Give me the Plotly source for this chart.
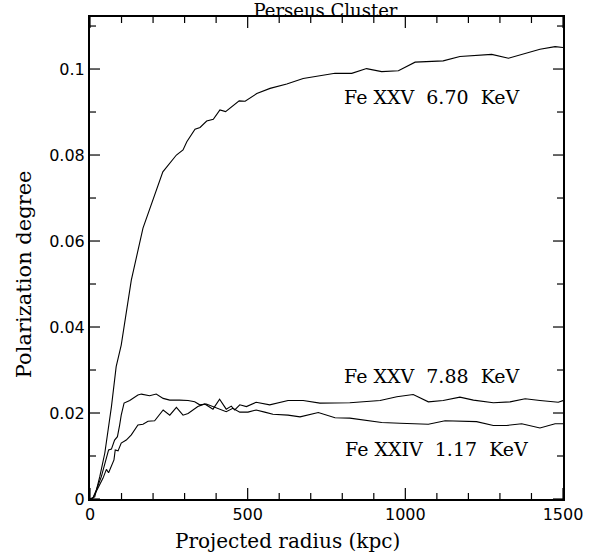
import plotly.graph_objects as go

# Fe XXV 6.70 KeV
r_670 = [0, 15, 31, 47, 68, 83, 99, 131, 168, 200, 231, 274, 295, 307, 333, 349, 370, 391, 412, 430,
         454, 473, 492, 529, 571, 624, 676, 729, 777, 830, 877, 925, 978, 1031, 1120, 1173, 1274,
         1327, 1427, 1475, 1500]
p_670 = [0, 0.0005, 0.0052, 0.0107, 0.0215, 0.0308, 0.0358, 0.0509, 0.0630, 0.0695, 0.0761, 0.0800,
         0.0812, 0.0831, 0.0860, 0.0864, 0.0879, 0.0883, 0.0905, 0.0901, 0.0916, 0.0926, 0.0925,
         0.0943, 0.0955, 0.0965, 0.0978, 0.0985, 0.0990, 0.0990, 0.1001, 0.0994, 0.0996, 0.1016,
         0.1019, 0.1029, 0.1034, 0.1025, 0.1046, 0.1052, 0.1050]

# Fe XXV 7.88 KeV
r_788 = [0, 9, 25, 41, 52, 59, 76, 80, 89, 99, 115, 131, 152, 168, 184, 205, 232, 253, 274, 295, 311,
         342, 364, 390, 411, 432, 448, 459, 475, 496, 527, 570, 628, 676, 729, 824, 920, 973, 1025,
         1073, 1120, 1173, 1216, 1279, 1332, 1380, 1427, 1485, 1500]
p_788 = [0, 0.0002, 0.0025, 0.0048, 0.0069, 0.0061, 0.0091, 0.0114, 0.0112, 0.0130, 0.0137, 0.0149,
         0.0172, 0.0174, 0.0181, 0.0182, 0.0207, 0.0195, 0.0213, 0.0195, 0.0199, 0.0215, 0.0221,
         0.0209, 0.0232, 0.0209, 0.0216, 0.0207, 0.0219, 0.0215, 0.0225, 0.0219, 0.0229, 0.0229,
         0.0223, 0.0224, 0.0229, 0.0238, 0.0243, 0.0226, 0.0229, 0.0237, 0.0230, 0.0224, 0.0226,
         0.0233, 0.0229, 0.0225, 0.0229]

# Fe XXIV 1.17 KeV
r_117 = [0, 9, 20, 36, 59, 68, 78, 87, 94, 99, 108, 126, 152, 163, 189, 210, 232, 253, 284, 311, 332,
         348, 369, 390, 411, 432, 453, 475, 501, 527, 554, 580, 628, 666, 724, 777, 824, 867, 925,
         983, 1073, 1126, 1226, 1279, 1321, 1369, 1427, 1475, 1500]
p_117 = [0, 0.0002, 0.0021, 0.0052, 0.0114, 0.0116, 0.0137, 0.0145, 0.0172, 0.0195, 0.0223, 0.0229,
         0.0242, 0.0244, 0.0240, 0.0244, 0.0234, 0.0230, 0.0230, 0.0229, 0.0226, 0.0219, 0.0221,
         0.0215, 0.0209, 0.0203, 0.0211, 0.0202, 0.0202, 0.0207, 0.0202, 0.0197, 0.0195, 0.0191,
         0.0201, 0.0189, 0.0188, 0.0184, 0.0178, 0.0176, 0.0174, 0.0182, 0.0180, 0.0171, 0.0171,
         0.0175, 0.0165, 0.0175, 0.0175]

labels = ["Fe XXV  6.70  KeV", "Fe XXV  7.88  KeV", "Fe XXIV  1.17  KeV"]
label_x = [1086, 1086, 1100]
label_y = [0.0935, 0.0286, 0.0116]

# axes and tick positions
x_range = [0, 1500]
y_range = [0, 0.1121]
x_major = [0, 500, 1000, 1500]
x_minor = [100, 200, 300, 400, 600, 700, 800, 900, 1100, 1200, 1300, 1400]
y_major = [0, 0.02, 0.04, 0.06, 0.08, 0.1]
y_minor = [0.01, 0.03, 0.05, 0.07, 0.09, 0.11]

SERIF = "DejaVu Serif"
SANS = "DejaVu Sans"

W, H = 596, 560
ML, MR, MT, MB = 90, 33, 17, 61
plot_w, plot_h = W - ML - MR, H - MT - MB

fig = go.Figure()
for r, p, name in [(r_670, p_670, labels[0]), (r_788, p_788, labels[1]), (r_117, p_117, labels[2])]:
    fig.add_trace(go.Scatter(x=r, y=p, mode="lines", name=name,
                             line=dict(color="black", width=1.1), showlegend=False))

# inside tick marks on all four sides, built from the tick lists (lengths in pixels -> axis units)
tx, ty = [], []
ybot, ytop = y_range
xl, xr = x_range
for vals, px in [(x_major, 11), (x_minor, 6)]:
    d = (ytop - ybot) * px / plot_h
    for v in vals:
        tx += [v, v, None, v, v, None]
        ty += [ybot, ybot + d, None, ytop, ytop - d, None]
for vals, px in [(y_major, 10), (y_minor, 6)]:
    d = (xr - xl) * px / plot_w
    for v in vals:
        tx += [xl, xl + d, None, xr, xr - d, None]
        ty += [v, v, None, v, v, None]
fig.add_trace(go.Scatter(x=tx, y=ty, mode="lines", line=dict(color="black", width=1.2),
                         connectgaps=False, hoverinfo="skip", showlegend=False))

for t, x, y in zip(labels, label_x, label_y):
    fig.add_annotation(x=x, y=y, text=t, showarrow=False, xanchor="center", yanchor="middle",
                       font=dict(family=SERIF, size=19, color="black"))

# axis titles
fig.add_annotation(text="Projected radius (kpc)", xref="paper", yref="paper", x=0.4165, y=-0.0865,
                   xanchor="center", yanchor="middle", showarrow=False,
                   font=dict(family=SERIF, size=20, color="black"))
fig.add_annotation(text="Polarization degree", xref="paper", yref="paper", x=-0.1395, y=0.4665,
                   xanchor="center", yanchor="middle", textangle=-90, showarrow=False,
                   font=dict(family=SERIF, size=21, color="black"))

fig.update_layout(
    width=W, height=H,
    margin=dict(l=ML, r=MR, t=MT, b=MB, autoexpand=False),
    paper_bgcolor="white", plot_bgcolor="white",
    title=dict(text="Perseus Cluster", x=0.5461, xanchor="center", y=0.981, yanchor="middle",
               font=dict(family=SERIF, size=18, color="black")),
    xaxis=dict(range=x_range, tickmode="array", tickvals=x_major,
               ticks="", showline=True, linecolor="black", linewidth=2, mirror=True,
               showgrid=False, zeroline=False,
               tickfont=dict(family=SANS, size=16, color="black")),
    yaxis=dict(range=y_range, tickmode="array", tickvals=y_major,
               ticks="", showline=True, linecolor="black", linewidth=2, mirror=True,
               showgrid=False, zeroline=False,
               tickfont=dict(family=SANS, size=16, color="black")),
)

fig.write_html("out.html")
